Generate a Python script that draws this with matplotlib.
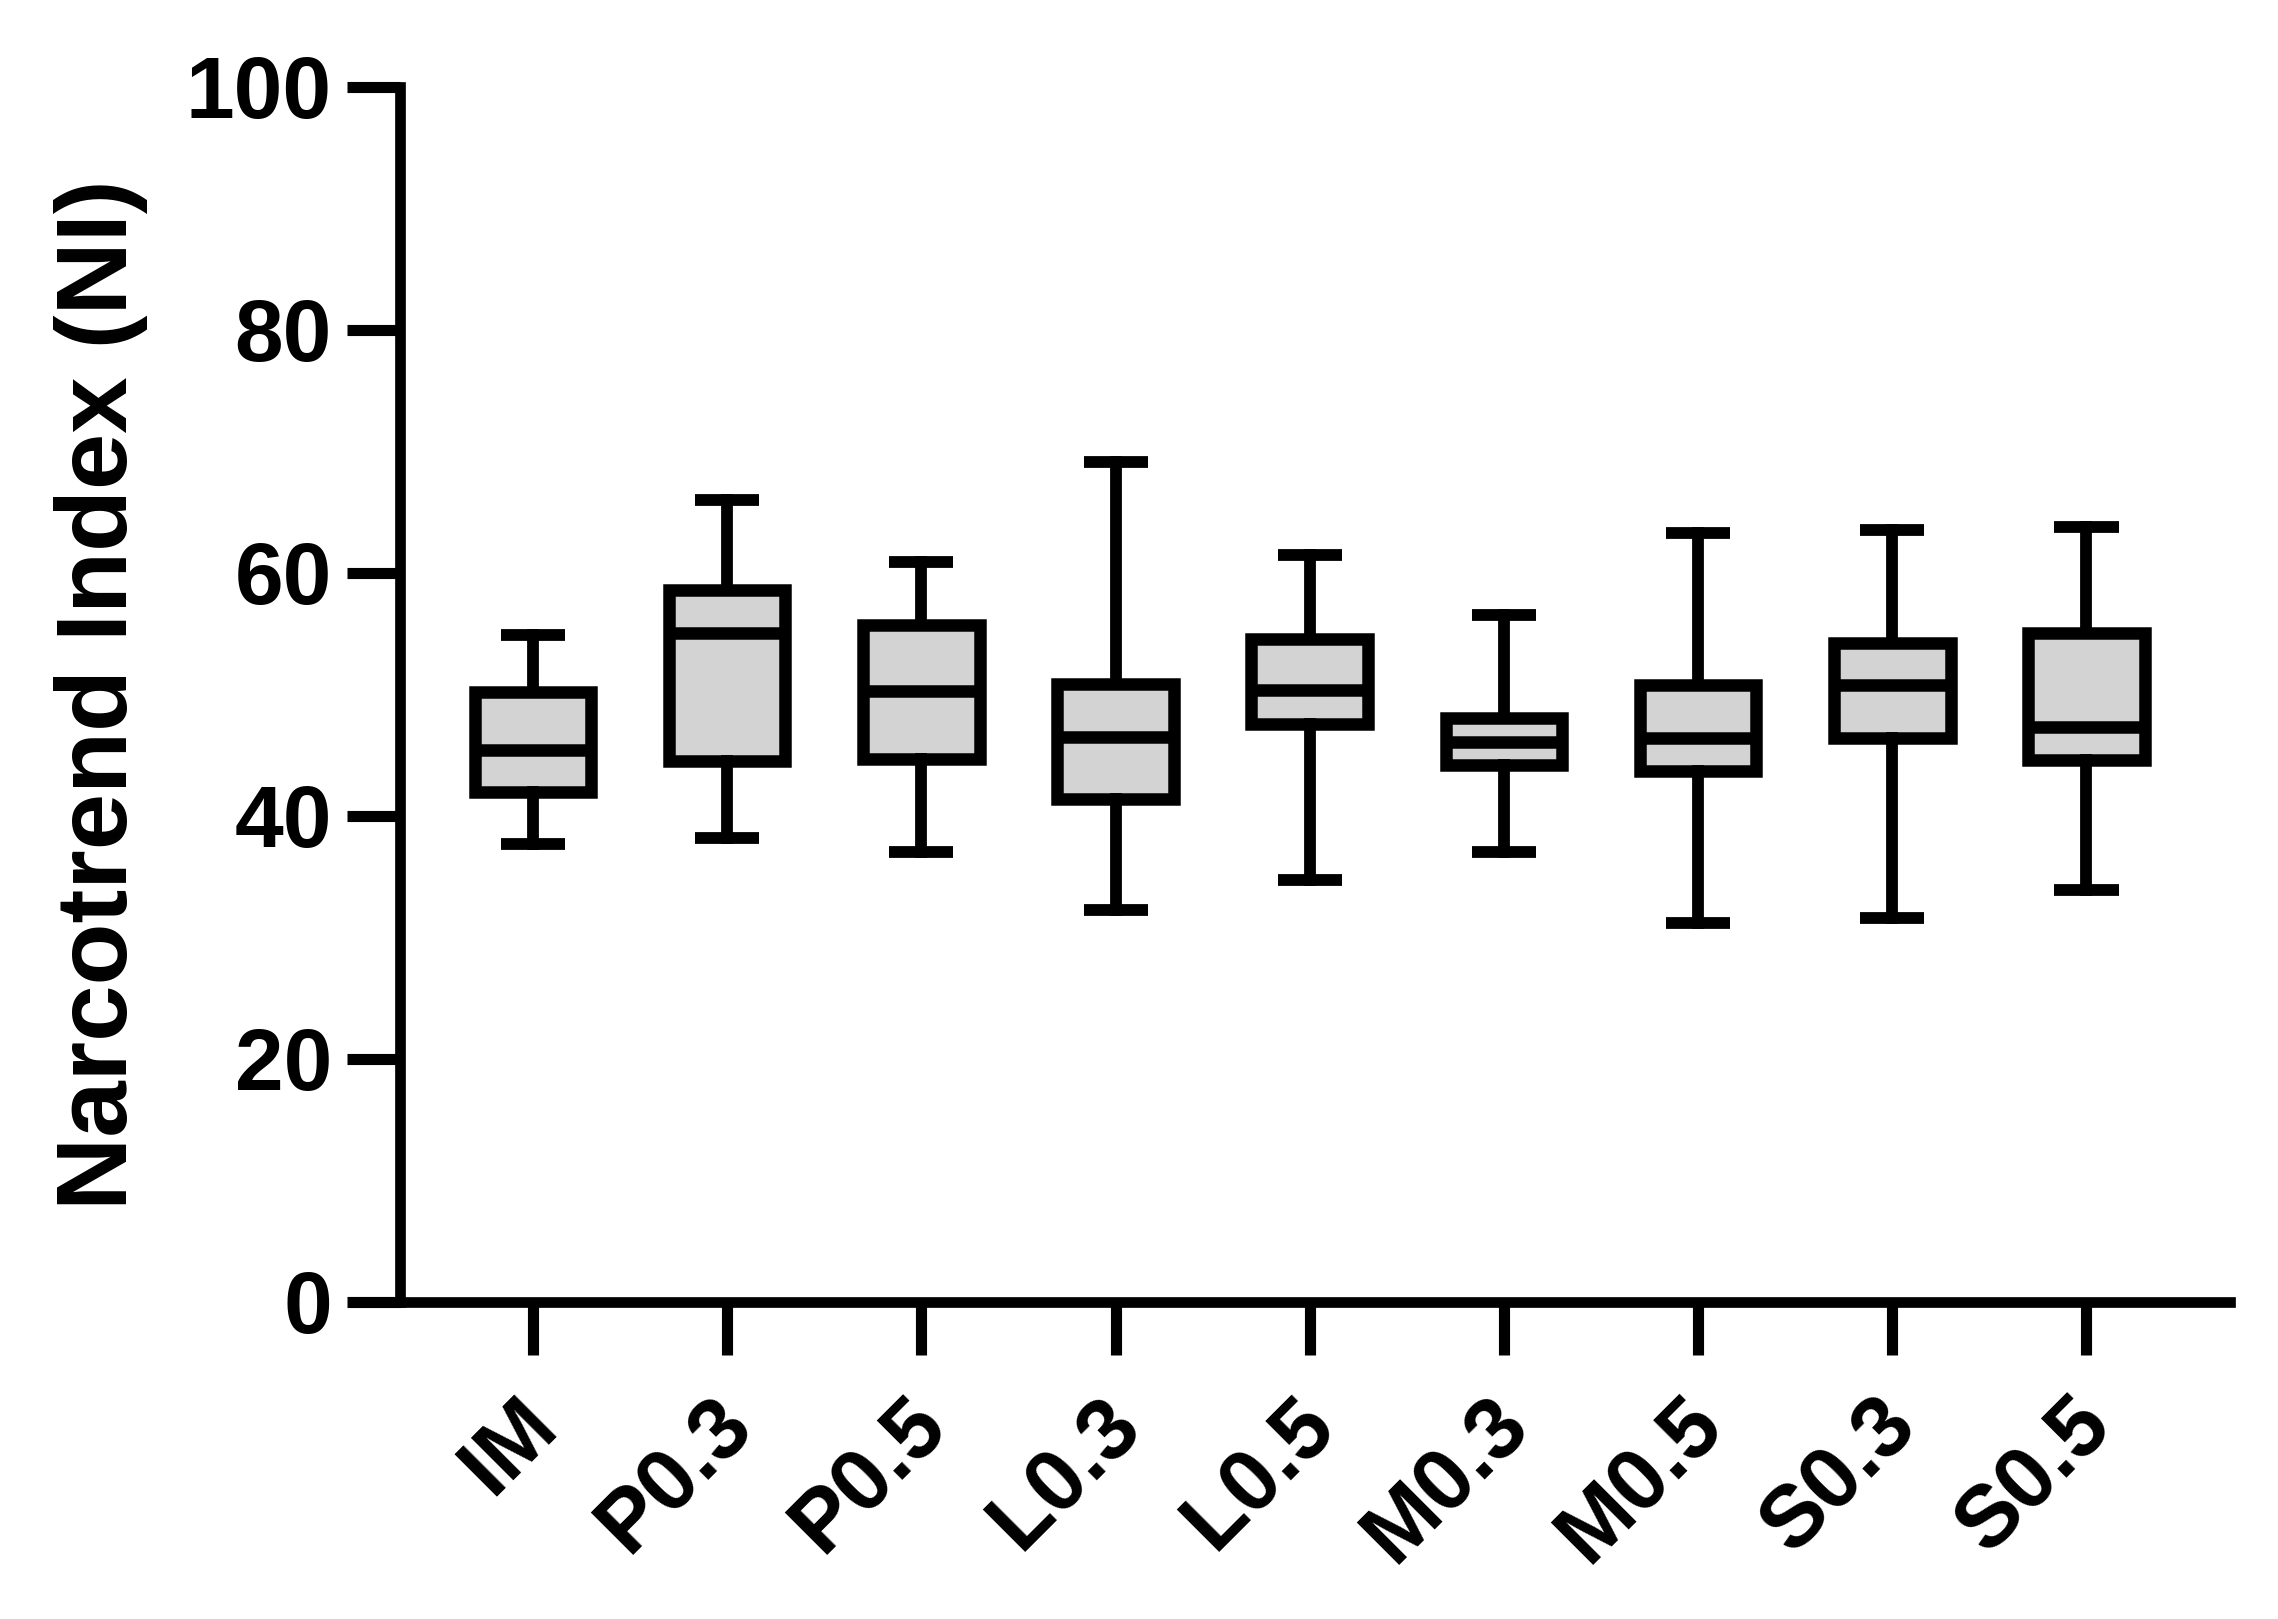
import matplotlib
matplotlib.use('Agg')
import matplotlib.pyplot as plt
from matplotlib.transforms import ScaledTranslation

groups = ['IM', 'P0.3', 'P0.5', 'L0.3', 'L0.5', 'M0.3', 'M0.5', 'S0.3', 'S0.5']
whislo = [37.7, 38.2, 37.0, 32.3, 34.7, 37.0, 31.2, 31.6, 33.9]
q1     = [42.0, 44.5, 44.7, 41.4, 47.6, 44.2, 43.7, 46.4, 44.6]
med    = [45.4, 55.1, 50.3, 46.5, 50.4, 46.1, 46.4, 50.8, 47.3]
q3     = [50.2, 58.6, 55.7, 50.9, 54.6, 48.1, 50.8, 54.2, 55.1]
whishi = [54.9, 66.0, 60.9, 69.1, 61.5, 56.5, 63.3, 63.5, 63.8]

plt.rcParams['font.family'] = ['Liberation Sans', 'DejaVu Sans']
plt.rcParams['font.weight'] = 'bold'

fig = plt.figure(figsize=(22.78, 16.19), dpi=100)
ax = fig.add_axes([0.1756, 0.1958, 0.8034, 0.7505])

stats = []
for g, a, b, c, d, e in zip(groups, whislo, q1, med, q3, whishi):
    stats.append(dict(label=g, whislo=a, q1=b, med=c, q3=d, whishi=e, fliers=[]))

ax.bxp(stats, positions=range(len(groups)), widths=0.6, capwidths=0.33,
       patch_artist=True, showfliers=False,
       boxprops=dict(facecolor='#d3d3d3', edgecolor='black', linewidth=9),
       medianprops=dict(color='black', linewidth=9, solid_capstyle='butt'),
       whiskerprops=dict(color='black', linewidth=8.5),
       capprops=dict(color='black', linewidth=8.5, solid_capstyle='butt'))

ax.set_xlim(-0.685, 8.74)
ax.set_ylim(0, 100)
ax.set_yticks(range(0, 101, 20))
ax.set_xticks(range(len(groups)))
ax.set_xticklabels(groups, rotation=45, ha='right')

for s in ['top', 'right']:
    ax.spines[s].set_visible(False)
for s in ['left', 'bottom']:
    ax.spines[s].set_linewidth(7.7)

ax.tick_params(axis='both', width=8, length=38, labelsize=63)
ax.tick_params(axis='y', pad=11)
ax.tick_params(axis='x', pad=22)

# shift rotated labels so their glyphs end just right of the tick
offset = ScaledTranslation(0.40, 0.02, fig.dpi_scale_trans)
for lbl in ax.get_xticklabels():
    lbl.set_transform(lbl.get_transform() + offset)

ax.set_ylabel('Narcotrend Index (NI)', fontsize=73, fontweight='bold')
ax.yaxis.set_label_coords(-0.1377, 0.5)

fig.savefig('out.png', dpi=100)
